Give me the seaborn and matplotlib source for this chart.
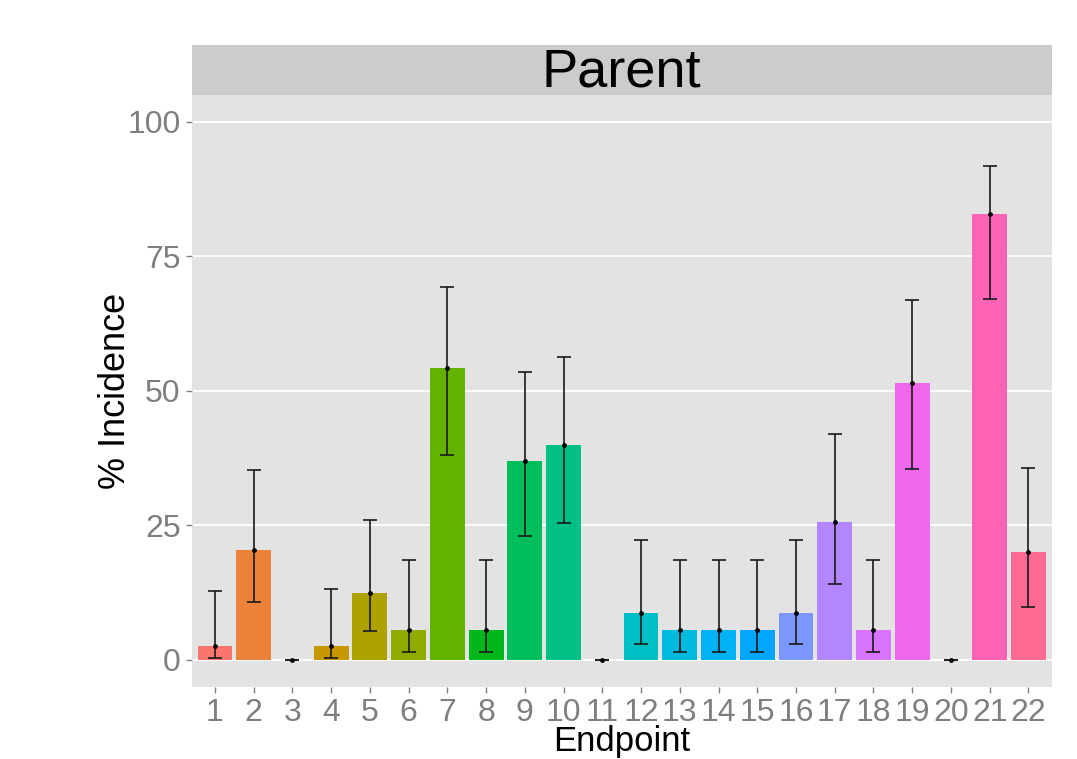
import numpy as np
import pandas as pd
import matplotlib
matplotlib.use("Agg")
import matplotlib.pyplot as plt
import seaborn as sns

# Percent incidence per endpoint with lower/upper confidence limits
endpoints = [str(i) for i in range(1, 23)]
incidence = [2.6, 20.4, 0.0, 2.6, 12.4, 5.6, 54.3, 5.6, 37.0, 40.0, 0.0,
             8.7, 5.6, 5.6, 5.6, 8.7, 25.6, 5.6, 51.5, 0.0, 82.9, 20.1]
lower = [0.3, 10.7, 0.0, 0.3, 5.3, 1.5, 38.1, 1.5, 23.1, 25.5, 0.0,
         2.9, 1.5, 1.5, 1.5, 2.9, 14.1, 1.5, 35.5, 0.0, 67.1, 9.9]
upper = [12.7, 35.3, 0.0, 13.1, 25.9, 18.5, 69.3, 18.5, 53.5, 56.3, 0.0,
         22.3, 18.5, 18.5, 18.5, 22.3, 41.9, 18.5, 66.9, 0.0, 91.8, 35.7]
y_ticks = [0, 25, 50, 75, 100]
panel_title = "Parent"


def hue_palette(n, c=100.0, l=65.0, h_start=15.0):
    """Evenly spaced HCL hues converted to sRGB hex colours."""
    hues = np.linspace(h_start, h_start + 360, n + 1)[:n]
    Xn, Yn, Zn = 95.047, 100.0, 108.883
    un = 4 * Xn / (Xn + 15 * Yn + 3 * Zn)
    vn = 9 * Yn / (Xn + 15 * Yn + 3 * Zn)
    Y = Yn * ((l + 16) / 116) ** 3
    out = []
    for h in hues:
        u = c * np.cos(np.radians(h))
        v = c * np.sin(np.radians(h))
        up = u / (13 * l) + un
        vp = v / (13 * l) + vn
        X = 9 * Y * up / (4 * vp)
        Z = -X / 3 - 5 * Y + 3 * Y / vp
        xyz = np.array([X, Y, Z]) / 100
        m = np.array([[3.2404542, -1.5371385, -0.4985314],
                      [-0.9692660, 1.8760108, 0.0415560],
                      [0.0556434, -0.2040259, 1.0572252]])
        rgb = m @ xyz
        rgb = np.where(rgb <= 0.0031308, 12.92 * rgb,
                       1.055 * np.clip(rgb, 0, None) ** (1 / 2.4) - 0.055)
        rgb = np.clip(rgb, 0, 1)
        out.append(matplotlib.colors.to_hex(rgb))
    return out


df = pd.DataFrame({"Endpoint": endpoints, "Incidence": incidence,
                   "lower": lower, "upper": upper})
colors = hue_palette(len(endpoints))

sns.set_theme(style="white")
plt.rcParams["font.family"] = ["Liberation Sans", "DejaVu Sans"]

fig = plt.figure(figsize=(10.77, 7.59), dpi=100)
ax = fig.add_axes([0.178, 0.0953, 0.7985, 0.7795])
strip = fig.add_axes([0.178, 0.8748, 0.7985, 0.0659])

ax.set_facecolor("#E3E3E3")
ax.set_axisbelow(True)
ax.yaxis.grid(True, color="white", linewidth=1.3)
ax.xaxis.grid(False)

sns.barplot(data=df, x="Endpoint", y="Incidence", hue="Endpoint",
            palette=colors, legend=False, width=0.9, saturation=1,
            errorbar=None, ax=ax, order=endpoints, linewidth=0)

xpos = np.arange(len(endpoints))
inc = np.array(incidence)
ax.errorbar(xpos, inc, yerr=[inc - np.array(lower), np.array(upper) - inc],
            fmt="none", ecolor="#1a1a1a", elinewidth=1.2, capsize=5,
            capthick=1.2, zorder=4)
ax.scatter(xpos, inc, s=6, color="black", zorder=5)

ax.set_xlim(-0.6, len(endpoints) - 0.4)
ax.set_ylim(-5, 105)
ax.set_yticks(y_ticks)
for s in ax.spines.values():
    s.set_visible(False)
ax.tick_params(axis="both", colors="#7F7F7F", labelsize=23, length=4,
               width=1, direction="out", bottom=True, left=True, pad=4)
for lab in ax.get_xticklabels() + ax.get_yticklabels():
    lab.set_color("#7F7F7F")
ax.set_xlabel("Endpoint", fontsize=25, color="black", labelpad=-2)
ax.set_ylabel("% Incidence", fontsize=26, color="black", labelpad=-4)

strip.set_facecolor("#CCCCCC")
strip.set_xticks([])
strip.set_yticks([])
for s in strip.spines.values():
    s.set_visible(False)
strip.text(0.5, 0.46, panel_title, ha="center", va="center", fontsize=39,
           color="black", transform=strip.transAxes)

fig.savefig("out.png", dpi=100)
